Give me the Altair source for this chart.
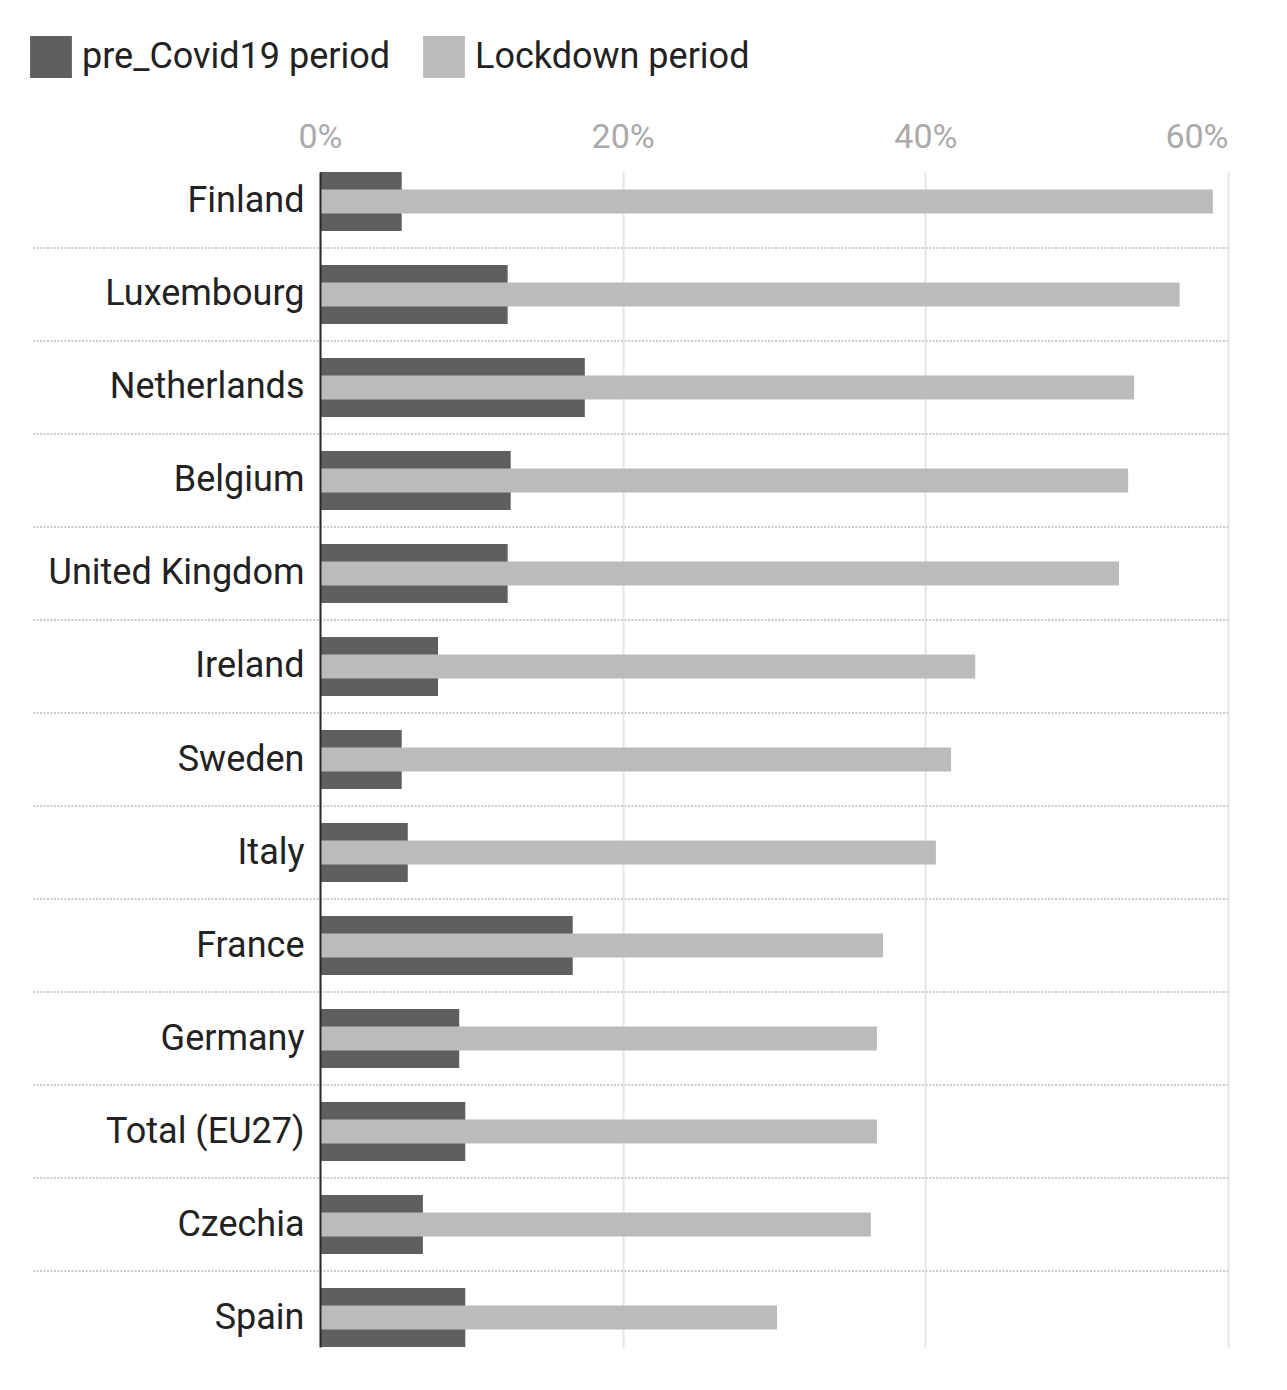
import altair as alt
import pandas as pd

countries = ["Finland", "Luxembourg", "Netherlands", "Belgium", "United Kingdom",
             "Ireland", "Sweden", "Italy", "France", "Germany", "Total (EU27)",
             "Czechia", "Spain"]
pre_covid = [5.4, 12.4, 17.5, 12.6, 12.4, 7.8, 5.4, 5.8, 16.7, 9.2, 9.6, 6.8, 9.6]
lockdown = [59.0, 56.8, 53.8, 53.4, 52.8, 43.3, 41.7, 40.7, 37.2, 36.8, 36.8, 36.4, 30.2]
periods = ["pre_Covid19 period", "Lockdown period"]
colors = ["#5f5f5f", "#bbbbbb"]

df = pd.DataFrame({
    "country": countries,
    periods[0]: [v / 100 for v in pre_covid],
    periods[1]: [v / 100 for v in lockdown],
})

FONT = "Roboto"
W, H = 908, 1175

base = alt.Chart(df).transform_fold(periods, as_=["period", "value"])

yscale = alt.Scale(paddingInner=0.366, paddingOuter=0)
yaxis = alt.Axis(title=None, ticks=False, grid=False, domainColor="#2a2a2a",
                 domainWidth=2, labelPadding=16, labelFontSize=36, labelLimit=1000,
                 labelColor="#222222", labelFont=FONT, zindex=1)
xaxis = alt.Axis(title=None, orient="top", values=[0, 0.2, 0.4, 0.6], format=".0%",
                 domain=False, ticks=False, grid=True, gridColor="#e6e6e6",
                 gridWidth=2, labelFontSize=34, labelColor="#aaaaaa",
                 labelFont=FONT, labelPadding=18,
                 labelAlign={"condition": {"test": "datum.value >= 0.6", "value": "right"},
                             "value": "center"})
color = alt.Color("period:N", scale=alt.Scale(domain=periods, range=colors),
                  legend=alt.Legend(title=None, orient="none", legendX=-290, legendY=-136,
                                    direction="horizontal", symbolType="square",
                                    symbolSize=1750, symbolStrokeWidth=0,
                                    symbolOpacity=1, labelFontSize=36, labelLimit=1000,
                                    labelColor="#222222", labelFont=FONT,
                                    labelOffset=10, columnPadding=32))

rules = alt.Chart(df).transform_filter(
    alt.datum.country != countries[-1]
).mark_rule(color="#cccccc", strokeWidth=2, strokeDash=[2, 1.5], yOffset=17).encode(
    y=alt.Y("country:N", sort=countries, scale=yscale, axis=yaxis, bandPosition=1),
    x=alt.value(-287),
    x2=alt.value(W),
)

pre_bars = base.transform_filter(alt.datum.period == periods[0]).mark_bar().encode(
    y=alt.Y("country:N", sort=countries, scale=yscale, axis=yaxis),
    x=alt.X("value:Q", scale=alt.Scale(domain=[0, 0.6], nice=False), axis=xaxis),
    color=color,
)

lock_bars = base.transform_filter(alt.datum.period == periods[1]).mark_bar(size=24).encode(
    y=alt.Y("country:N", sort=countries, scale=yscale, axis=yaxis),
    x=alt.X("value:Q", scale=alt.Scale(domain=[0, 0.6], nice=False), axis=xaxis),
    color=color,
)

chart = alt.layer(rules, pre_bars, lock_bars).properties(
    width=W, height=H,
    autosize=alt.AutoSizeParams(type="none"),
    padding={"left": 312, "top": 164, "right": 40, "bottom": 30},
).configure(font=FONT).configure_view(stroke="transparent", strokeWidth=0)

chart.save("out.html", embed_options={"renderer": "svg", "actions": False})
